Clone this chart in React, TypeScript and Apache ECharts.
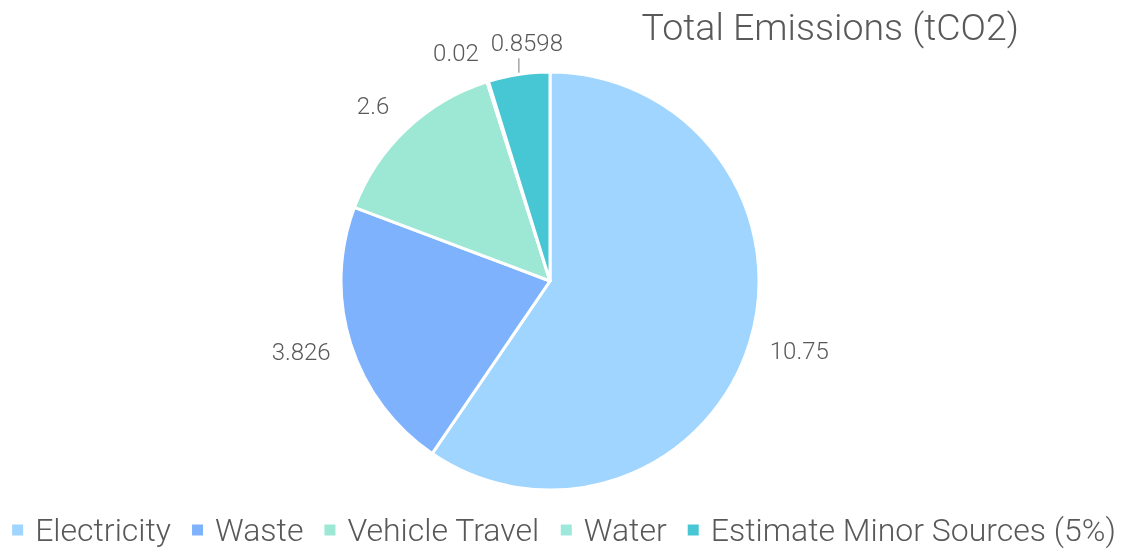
import React, { useEffect, useRef } from "react";
import * as echarts from "echarts";

const categories = ["Electricity", "Waste", "Vehicle Travel", "Water", "Estimate Minor Sources (5%)"];
const values = [10.75, 3.826, 2.6, 0.02, 0.8598];
const colors = ["#9fd5fe", "#7fb2fd", "#9ce8d5", "#9de8da", "#47c7d4"];
const labelLengths = [20, 20, 32, 30, 14];
const labelDistances = [1, 1, -5, 0, 5];

export default function App() {
  const ref = useRef<HTMLDivElement>(null);
  useEffect(() => {
    if (!ref.current) return;
    const chart = echarts.init(ref.current, null, { renderer: "svg" });
    const font = "Roboto";
    const minorIndex = categories.length - 1;
    chart.setOption({
      animation: false,
      title: {
        text: "Total Emissions (tCO2)",
        right: 102,
        top: 2,
        textStyle: { fontFamily: font, fontWeight: 300, fontSize: 37.5, lineHeight: 40, color: "#595959" },
      },
      legend: {
        top: 507,
        left: "center",
        itemWidth: 13,
        itemHeight: 13,
        itemGap: 19,
        icon: "rect",
        textStyle: {
          fontFamily: font,
          fontWeight: 300,
          fontSize: 32,
          lineHeight: 36,
          color: "#595959",
          padding: [0, 0, 0, 6],
        },
        data: categories,
      },
      series: [
        {
          type: "pie",
          center: [550, 281],
          radius: 209,
          startAngle: 90,
          clockwise: true,
          avoidLabelOverlap: false,
          itemStyle: { borderColor: "#fff", borderWidth: 3 },
          label: {
            show: true,
            position: "outside",
            fontFamily: font,
            fontWeight: 300,
            fontSize: 24,
            color: "#595959",
            formatter: (p: any) => String(p.value),
          },
          labelLine: { lineStyle: { color: "#a6a6a6", width: 1.5 } },
          labelLayout: (params: any) => {
            if (!params.labelLinePoints) return {};
            if (params.dataIndex < 2) return { dy: 2 };
            if (params.dataIndex !== minorIndex) return {};
            const p0 = params.labelLinePoints[0];
            const top = [p0[0], p0[1] - 16];
            return {
              x: p0[0] + 8,
              y: top[1] - 3,
              align: "center",
              verticalAlign: "bottom",
              labelLinePoints: [p0, top, top],
            };
          },
          data: categories.map((name, i) => ({
            name,
            value: values[i],
            itemStyle: { color: colors[i] },
            label: { distanceToLabelLine: labelDistances[i] },
            labelLine: { show: i === minorIndex, length: labelLengths[i], length2: 0 },
          })),
        },
      ],
    });
    return () => chart.dispose();
  }, []);
  return <div ref={ref} style={{ position: "fixed", left: 0, top: 0, width: 1126, height: 551 }} />;
}
